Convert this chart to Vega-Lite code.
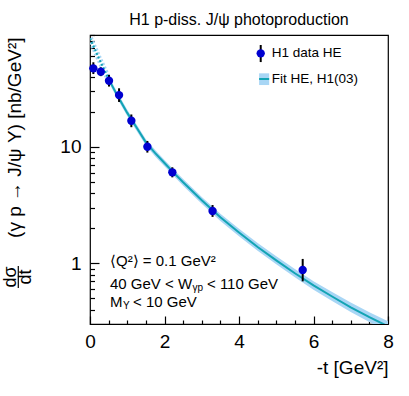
{
  "$schema": "https://vega.github.io/schema/vega-lite/v6.json",
  "width": 298,
  "height": 289,
  "autosize": {"type": "none"},
  "padding": {"left": 90, "top": 35, "right": 21, "bottom": 72},
  "title": {"text": "H1 p-diss. J/ψ photoproduction", "font": "Liberation Sans", "fontSize": 16, "fontWeight": "normal", "color": "#000", "anchor": "middle", "frame": "group", "baseline": "alphabetic", "offset": -7},
  "config": {
    "view": {"stroke": "#000", "strokeWidth": 1.2},
    "font": "Liberation Sans",
    "axis": {"grid": false, "domain": false, "labelFont": "Liberation Sans", "titleFont": "Liberation Sans", "tickColor": "#000", "labelColor": "#000", "titleColor": "#000", "titleFontWeight": "normal", "tickWidth": 1.2}
  },
  "datasets": {
    "data": [
      {"t": 0.09, "v": 47, "lo": 42, "hi": 53},
      {"t": 0.29, "v": 44, "lo": 40.3, "hi": 48},
      {"t": 0.51, "v": 36.8, "lo": 32.8, "hi": 41.3},
      {"t": 0.78, "v": 27.7, "lo": 24.2, "hi": 31.7},
      {"t": 1.11, "v": 16.7, "lo": 14.7, "hi": 18.9},
      {"t": 1.54, "v": 10.0, "lo": 8.9, "hi": 11.2},
      {"t": 2.21, "v": 6.03, "lo": 5.46, "hi": 6.66},
      {"t": 3.29, "v": 2.81, "lo": 2.5, "hi": 3.16},
      {"t": 5.71, "v": 0.877, "lo": 0.7, "hi": 1.09}
    ],
    "fit": [
      {"t": 0.5, "v": 38, "lo": 35.7, "hi": 40.3},
      {"t": 0.75, "v": 26.9, "lo": 25.3, "hi": 28.6},
      {"t": 1.0, "v": 19.5, "lo": 18.3, "hi": 20.7},
      {"t": 1.25, "v": 14.6, "lo": 13.7, "hi": 15.5},
      {"t": 1.5, "v": 10.9, "lo": 10.25, "hi": 11.6},
      {"t": 1.75, "v": 8.8, "lo": 8.25, "hi": 9.35},
      {"t": 2.0, "v": 7.24, "lo": 6.8, "hi": 7.7},
      {"t": 2.25, "v": 5.96, "lo": 5.6, "hi": 6.35},
      {"t": 2.5, "v": 4.95, "lo": 4.63, "hi": 5.28},
      {"t": 3.0, "v": 3.47, "lo": 3.24, "hi": 3.71},
      {"t": 3.5, "v": 2.48, "lo": 2.31, "hi": 2.66},
      {"t": 4.0, "v": 1.84, "lo": 1.71, "hi": 1.98},
      {"t": 4.5, "v": 1.38, "lo": 1.28, "hi": 1.49},
      {"t": 5.0, "v": 1.06, "lo": 0.98, "hi": 1.15},
      {"t": 5.5, "v": 0.822, "lo": 0.758, "hi": 0.892},
      {"t": 6.0, "v": 0.646, "lo": 0.594, "hi": 0.703},
      {"t": 6.5, "v": 0.519, "lo": 0.475, "hi": 0.567},
      {"t": 7.0, "v": 0.419, "lo": 0.382, "hi": 0.46},
      {"t": 7.5, "v": 0.345, "lo": 0.313, "hi": 0.38},
      {"t": 8.0, "v": 0.288, "lo": 0.26, "hi": 0.318}
    ],
    "fitx": [
      {"t": 0.0, "v": 85},
      {"t": 0.25, "v": 56.2},
      {"t": 0.5, "v": 38}
    ],
    "one": [{}]
  },
  "resolve": {"axis": {"x": "independent", "y": "independent"}},
  "layer": [
    {
      "data": {"name": "fit"},
      "mark": {"type": "area", "color": "#a8d6f5", "clip": true},
      "encoding": {
        "x": {"field": "t", "type": "quantitative", "scale": {"domain": [0, 8], "nice": false, "zero": false}, "axis": null},
        "y": {"field": "lo", "type": "quantitative", "scale": {"type": "log", "domain": [0.3015, 90.8], "nice": false}, "axis": null},
        "y2": {"field": "hi"}
      }
    },
    {
      "data": {"name": "fitx"},
      "mark": {"type": "line", "color": "#a8d6f5", "strokeWidth": 6, "strokeDash": [2, 2], "clip": true},
      "encoding": {
        "x": {"field": "t", "type": "quantitative", "axis": null},
        "y": {"field": "v", "type": "quantitative", "axis": null}
      }
    },
    {
      "data": {"name": "fitx"},
      "mark": {"type": "line", "color": "#13a4b4", "strokeWidth": 2, "strokeDash": [2, 2], "clip": true},
      "encoding": {
        "x": {"field": "t", "type": "quantitative", "axis": null},
        "y": {"field": "v", "type": "quantitative", "axis": null}
      }
    },
    {
      "data": {"name": "fit"},
      "mark": {"type": "line", "color": "#13a4b4", "strokeWidth": 2, "clip": true},
      "encoding": {
        "x": {"field": "t", "type": "quantitative", "axis": null},
        "y": {"field": "v", "type": "quantitative", "axis": null}
      }
    },
    {
      "data": {"name": "data"},
      "mark": {"type": "rule", "color": "#000", "strokeWidth": 2},
      "encoding": {
        "x": {"field": "t", "type": "quantitative", "axis": null},
        "y": {"field": "lo", "type": "quantitative", "axis": null},
        "y2": {"field": "hi"}
      }
    },
    {
      "data": {"name": "data"},
      "mark": {"type": "point", "shape": "circle", "filled": true, "size": 70, "color": "#0000d0", "opacity": 1},
      "encoding": {
        "x": {"field": "t", "type": "quantitative", "axis": {"orient": "bottom", "values": [0, 2, 4, 6, 8], "format": "d", "tickSize": -8, "labelFontSize": 19, "labelPadding": 16, "labelFlush": false, "title": "-t [GeV²]", "titleFontSize": 19, "titleAlign": "right", "titleAnchor": "end", "titleX": 298, "titleY": 49, "titleBaseline": "alphabetic"}},
        "y": {"field": "v", "type": "quantitative", "axis": {"orient": "left", "values": [1, 10], "format": "d", "tickSize": -9, "labelFontSize": 19, "labelPadding": 18, "labelFlush": false, "title": "(γ p → J/ψ Y) [nb/GeV²]", "titleFontSize": 19, "titleAngle": 270, "titleAlign": "right", "titleAnchor": "end", "titleX": -75.5, "titleY": 2, "titleBaseline": "middle"}}
      }
    },
    {
      "data": {"name": "data"},
      "mark": {"type": "point", "opacity": 0},
      "encoding": {
        "x": {"field": "t", "type": "quantitative", "axis": {"orient": "bottom", "values": [0.5, 1, 1.5, 2.5, 3, 3.5, 4.5, 5, 5.5, 6.5, 7, 7.5], "tickSize": -4, "labels": false, "title": null}},
        "y": {"field": "v", "type": "quantitative", "axis": {"orient": "left", "values": [0.4, 0.5, 0.6, 0.7, 0.8, 0.9, 2, 3, 4, 5, 6, 7, 8, 9, 20, 30, 40, 50, 60, 70, 80, 90], "tickSize": -4.5, "labels": false, "title": null}}
      }
    },
    {
      "data": {"name": "one"},
      "mark": {"type": "text", "text": "dσ", "angle": 270, "align": "center", "baseline": "middle", "fontSize": 18, "color": "#000"},
      "encoding": {
        "x": {"datum": -2.115, "type": "quantitative", "axis": null},
        "y": {"datum": 0.763, "type": "quantitative", "axis": null}
      }
    },
    {
      "data": {"name": "one"},
      "mark": {"type": "text", "text": "dt", "angle": 270, "align": "center", "baseline": "middle", "fontSize": 18, "color": "#000"},
      "encoding": {
        "x": {"datum": -1.715, "type": "quantitative", "axis": null},
        "y": {"datum": 0.763, "type": "quantitative", "axis": null}
      }
    },
    {
      "data": {"name": "one"},
      "mark": {"type": "rule", "color": "#000", "strokeWidth": 1.2},
      "encoding": {
        "x": {"datum": -1.925, "type": "quantitative", "axis": null},
        "y": {"datum": 0.948, "type": "quantitative", "axis": null},
        "y2": {"datum": 0.614}
      }
    },
    {
      "data": {"name": "one"},
      "mark": {"type": "text", "text": "⟨Q²⟩ = 0.1 GeV²", "align": "left", "baseline": "alphabetic", "fontSize": 15, "color": "#000"},
      "encoding": {
        "x": {"datum": 0.537, "type": "quantitative", "axis": null},
        "y": {"datum": 0.939, "type": "quantitative", "axis": null}
      }
    },
    {
      "data": {"name": "one"},
      "mark": {"type": "text", "text": "40 GeV < W", "align": "left", "baseline": "alphabetic", "fontSize": 15, "color": "#000"},
      "encoding": {
        "x": {"datum": 0.537, "type": "quantitative", "axis": null},
        "y": {"datum": 0.602, "type": "quantitative", "axis": null}
      }
    },
    {
      "data": {"name": "one"},
      "mark": {"type": "text", "text": "γp", "align": "left", "baseline": "alphabetic", "fontSize": 10, "color": "#000"},
      "encoding": {
        "x": {"datum": 2.752, "type": "quantitative", "axis": null},
        "y": {"datum": 0.579, "type": "quantitative", "axis": null}
      }
    },
    {
      "data": {"name": "one"},
      "mark": {"type": "text", "text": "< 110 GeV", "align": "left", "baseline": "alphabetic", "fontSize": 15, "color": "#000"},
      "encoding": {
        "x": {"datum": 3.14, "type": "quantitative", "axis": null},
        "y": {"datum": 0.602, "type": "quantitative", "axis": null}
      }
    },
    {
      "data": {"name": "one"},
      "mark": {"type": "text", "text": "M", "align": "left", "baseline": "alphabetic", "fontSize": 15, "color": "#000"},
      "encoding": {
        "x": {"datum": 0.537, "type": "quantitative", "axis": null},
        "y": {"datum": 0.4218, "type": "quantitative", "axis": null}
      }
    },
    {
      "data": {"name": "one"},
      "mark": {"type": "text", "text": "Y", "align": "left", "baseline": "alphabetic", "fontSize": 10, "color": "#000"},
      "encoding": {
        "x": {"datum": 0.886, "type": "quantitative", "axis": null},
        "y": {"datum": 0.405, "type": "quantitative", "axis": null}
      }
    },
    {
      "data": {"name": "one"},
      "mark": {"type": "text", "text": "< 10 GeV", "align": "left", "baseline": "alphabetic", "fontSize": 15, "color": "#000"},
      "encoding": {
        "x": {"datum": 1.154, "type": "quantitative", "axis": null},
        "y": {"datum": 0.4218, "type": "quantitative", "axis": null}
      }
    },
    {
      "data": {"name": "one"},
      "mark": {"type": "rule", "color": "#000", "strokeWidth": 2},
      "encoding": {
        "x": {"datum": 4.583, "type": "quantitative", "axis": null},
        "y": {"datum": 53.2, "type": "quantitative", "axis": null},
        "y2": {"datum": 74.5}
      }
    },
    {
      "data": {"name": "one"},
      "mark": {"type": "point", "shape": "circle", "filled": true, "size": 70, "color": "#0000d0", "opacity": 1},
      "encoding": {
        "x": {"datum": 4.583, "type": "quantitative", "axis": null},
        "y": {"datum": 63.2, "type": "quantitative", "axis": null}
      }
    },
    {
      "data": {"name": "one"},
      "mark": {"type": "rect", "color": "#a8d6f5"},
      "encoding": {
        "x": {"datum": 4.54, "type": "quantitative", "axis": null},
        "x2": {"datum": 4.81},
        "y": {"datum": 33.8, "type": "quantitative", "axis": null},
        "y2": {"datum": 42.6}
      }
    },
    {
      "data": {"name": "one"},
      "mark": {"type": "rule", "color": "#13a4b4", "strokeWidth": 2},
      "encoding": {
        "x": {"datum": 4.54, "type": "quantitative", "axis": null},
        "x2": {"datum": 4.81},
        "y": {"datum": 38.1, "type": "quantitative", "axis": null}
      }
    },
    {
      "data": {"name": "one"},
      "mark": {"type": "text", "text": "H1 data HE", "align": "left", "baseline": "middle", "fontSize": 13.5, "color": "#000"},
      "encoding": {
        "x": {"datum": 4.878, "type": "quantitative", "axis": null},
        "y": {"datum": 63.2, "type": "quantitative", "axis": null}
      }
    },
    {
      "data": {"name": "one"},
      "mark": {"type": "text", "text": "Fit HE, H1(03)", "align": "left", "baseline": "middle", "fontSize": 13.5, "color": "#000"},
      "encoding": {
        "x": {"datum": 4.878, "type": "quantitative", "axis": null},
        "y": {"datum": 38.1, "type": "quantitative", "axis": null}
      }
    }
  ]
}
